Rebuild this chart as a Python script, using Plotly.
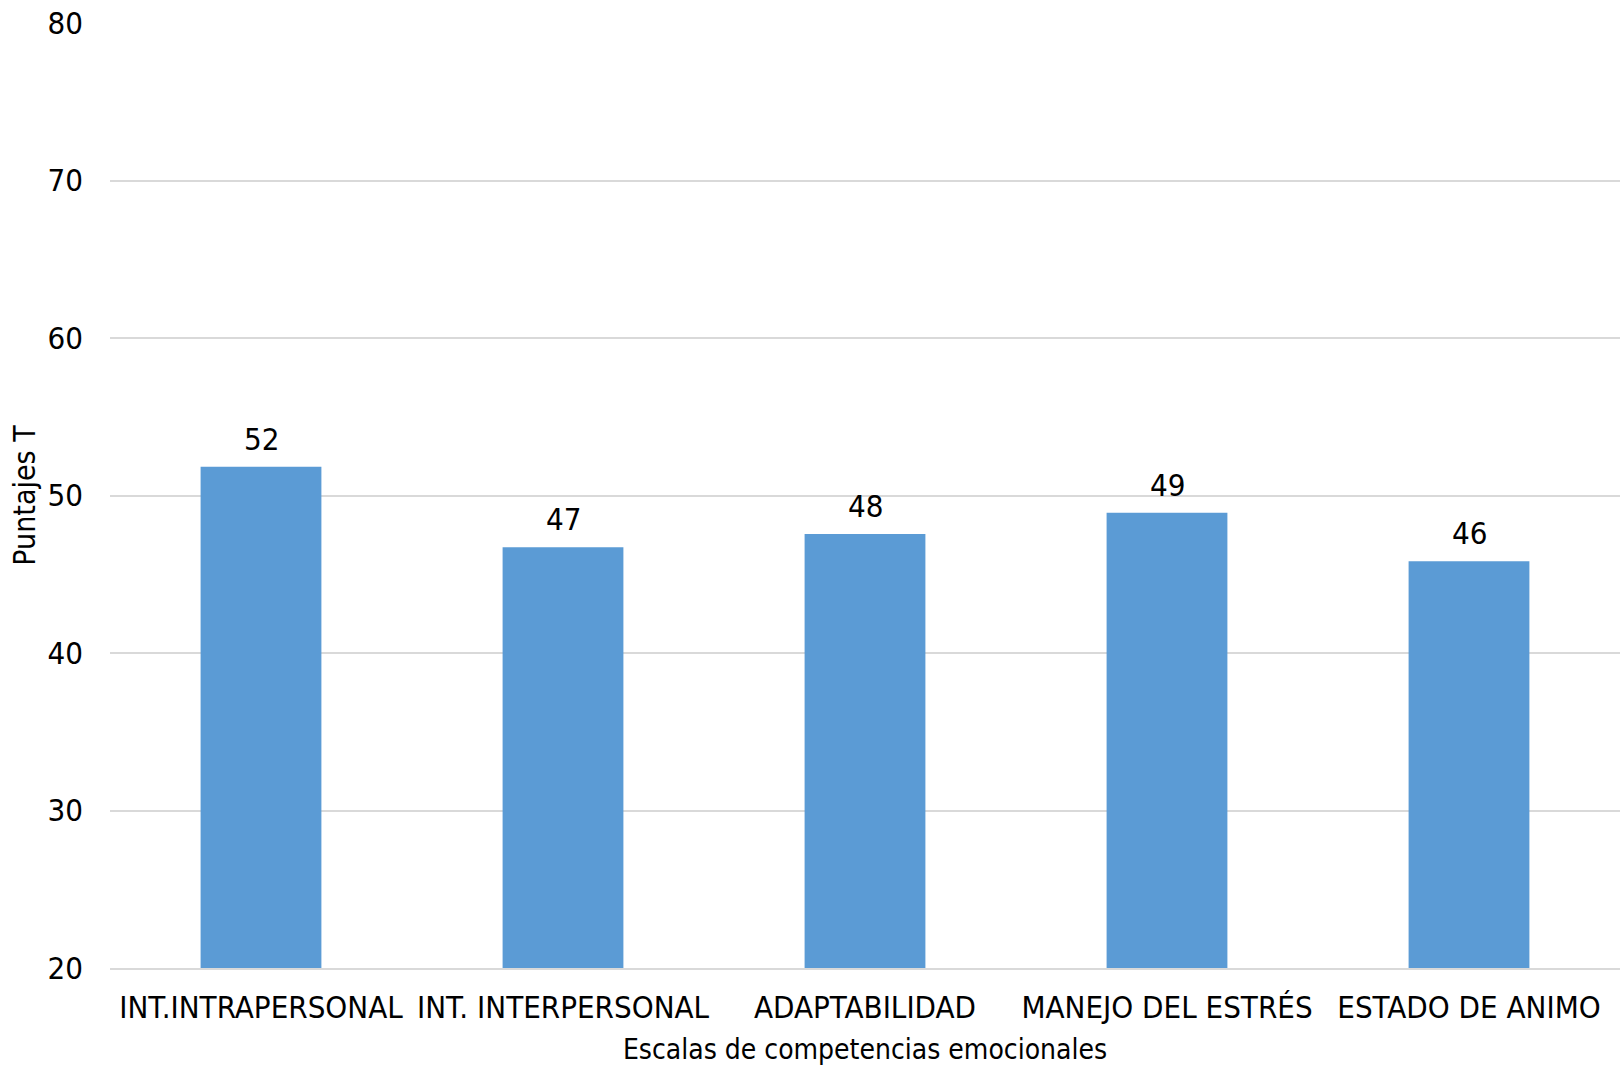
import plotly.graph_objects as go

categories = ["INT.INTRAPERSONAL", "INT. INTERPERSONAL", "ADAPTABILIDAD", "MANEJO DEL ESTRÉS", "ESTADO DE ANIMO"]
values = [51.83, 46.71, 47.55, 48.91, 45.82]
y_ticks = [20, 30, 40, 50, 60, 70, 80]

FONT = "DejaVu Sans Condensed, Liberation Sans, sans-serif"
SIZE = 31

fig = go.Figure(
    go.Bar(
        x=categories,
        y=values,
        marker=dict(color="#5b9bd5", line=dict(width=0)),
        hoverinfo="x+y",
    )
)

for c, v in zip(categories, values):
    fig.add_annotation(
        x=c, y=v, text=f"{v:.0f}", showarrow=False,
        yanchor="middle", yshift=28,
        font=dict(family=FONT, size=SIZE, color="#000000"),
    )

fig.update_layout(
    width=1620,
    height=1070,
    margin=dict(l=110, r=0, t=23, b=102),
    plot_bgcolor="white",
    paper_bgcolor="white",
    bargap=0.6,
    showlegend=False,
    font=dict(family=FONT, size=SIZE, color="#000000"),
    xaxis=dict(
        title=dict(text="Escalas de competencias emocionales", standoff=15,
                   font=dict(family=FONT, size=28)),
        tickfont=dict(family=FONT, size=SIZE),
        showline=True,
        linecolor="#d9d9d9",
        linewidth=2,
        ticks="",
        ticklabelstandoff=11,
        automargin=False,
    ),
    yaxis=dict(
        title=dict(text="Puntajes T", standoff=3, font=dict(family=FONT, size=30)),
        range=[20, 80],
        tickvals=y_ticks,
        tickfont=dict(family=FONT, size=SIZE),
        showgrid=True,
        gridcolor="#d9d9d9",
        gridwidth=2,
        zeroline=False,
        showline=False,
        ticks="",
        ticklabelstandoff=26,
        automargin=False,
    ),
)

fig.write_html("out.html")
